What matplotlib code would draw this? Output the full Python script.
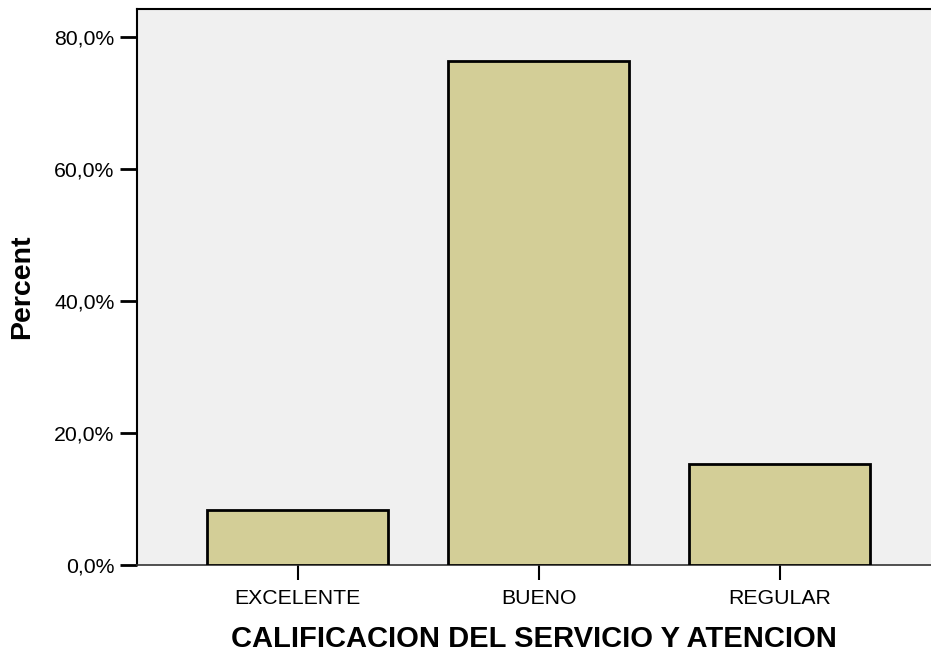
import matplotlib
matplotlib.use("Agg")
import matplotlib.pyplot as plt
from matplotlib.ticker import FuncFormatter

categories = ["EXCELENTE", "BUENO", "REGULAR"]
percent = [8.3, 76.4, 15.3]
yticks = [0, 20, 40, 60, 80]

plt.rcParams['font.family'] = ['Liberation Sans', 'DejaVu Sans']

fig = plt.figure(figsize=(9.31, 6.56), dpi=100)
ax = fig.add_axes([137/931, 1 - 565/656, 1 - 137/931, (565 - 9.3)/656])
ax.set_facecolor('#f0f0f0')

x = list(range(len(categories)))
ax.bar(x, percent, width=0.75, color='#d3ce97', edgecolor='black', linewidth=2, zorder=3)

ax.set_xlim(-0.667, 2.628)
ax.set_ylim(0, 84.25)
ax.set_yticks(yticks)
ax.yaxis.set_major_formatter(FuncFormatter(lambda v, p: f"{v:.1f}%".replace('.', ',')))
ax.set_xticks(x)
ax.set_xticklabels(categories)

ax.tick_params(axis='y', length=12.2, width=2, direction='out', labelsize=15.3, pad=4, colors='black')
ax.tick_params(axis='x', length=10.8, width=1.5, direction='out', labelsize=15.3, pad=6.5, colors='black')

ax.spines['right'].set_visible(False)
ax.spines['left'].set_linewidth(1.5)
ax.spines['top'].set_linewidth(1.5)
ax.spines['bottom'].set_linewidth(1.2)
ax.spines['bottom'].set_color('#333333')

ax.set_ylabel("Percent", fontsize=20.5, fontweight='bold')
ax.yaxis.set_label_coords(-0.128, 0.5)
ax.set_xlabel("CALIFICACION DEL SERVICIO Y ATENCION", fontsize=21, fontweight='bold')
ax.xaxis.set_label_coords(0.5, -0.108)

fig.savefig("out.png", dpi=100)
